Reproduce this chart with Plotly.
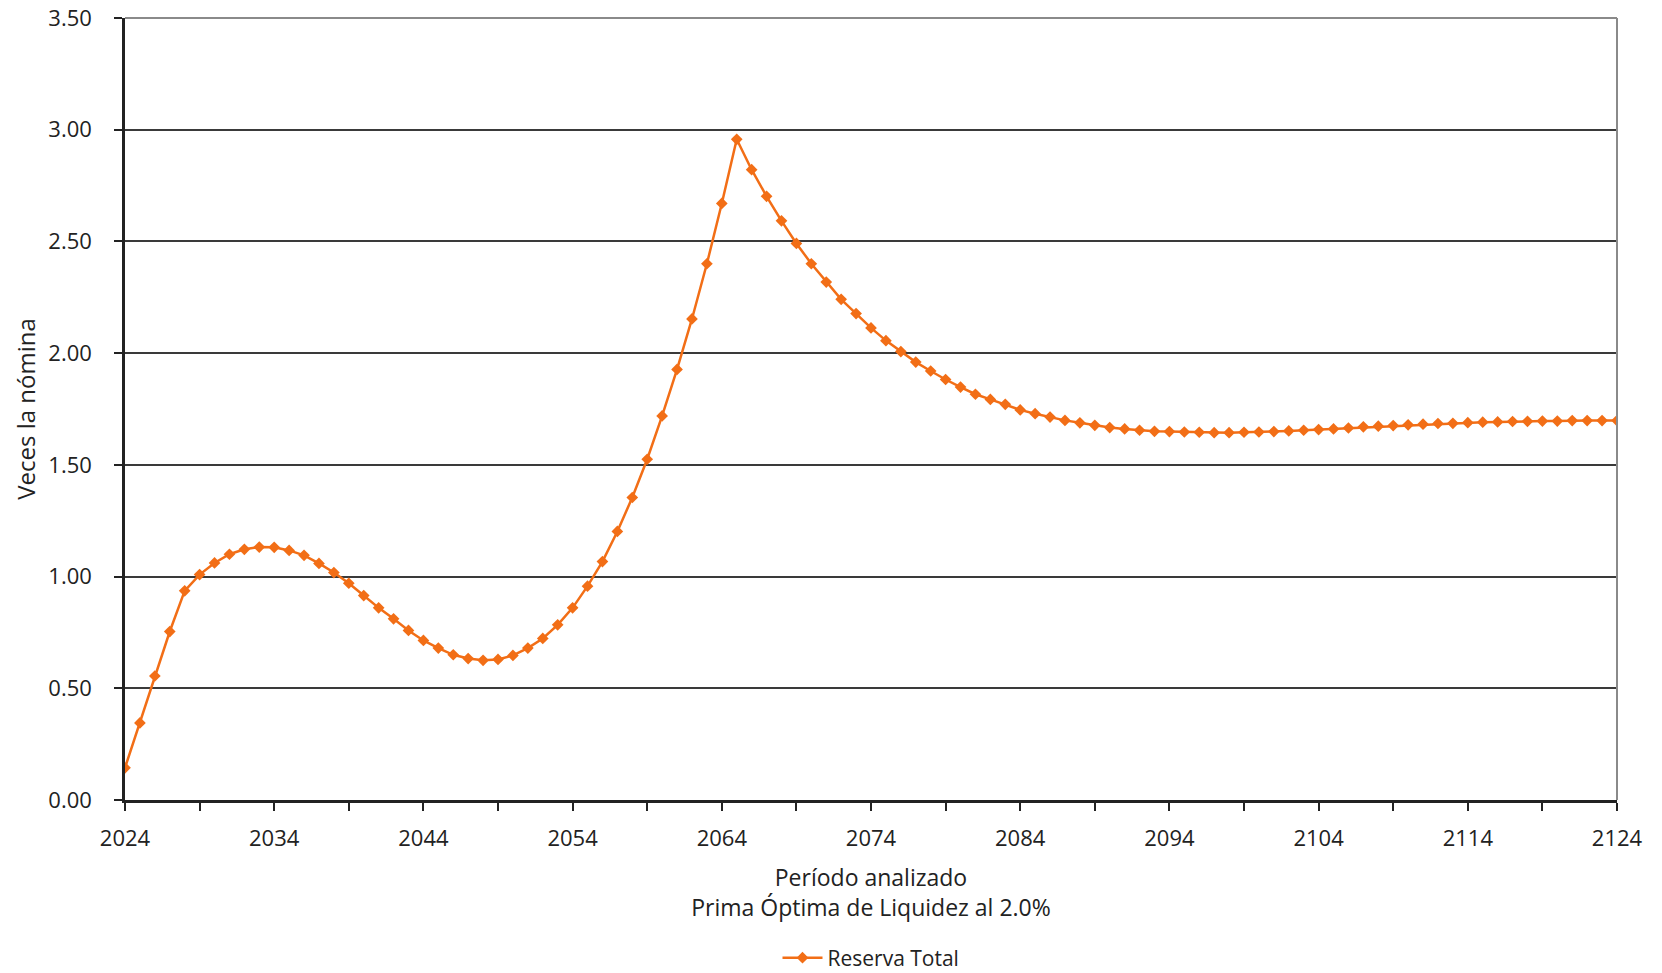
import plotly.graph_objects as go

years = list(range(2024, 2125))

reserva_total = [
    0.144, 0.345, 0.555, 0.754, 0.936, 1.009, 1.061, 1.100, 1.122, 1.132,   # 2024-2033
    1.131, 1.117, 1.095, 1.059, 1.018, 0.970, 0.915, 0.860, 0.811, 0.759,   # 2034-2043
    0.714, 0.680, 0.650, 0.633, 0.625, 0.629, 0.647, 0.680, 0.723, 0.784,   # 2044-2053
    0.860, 0.957, 1.067, 1.202, 1.354, 1.525, 1.719, 1.927, 2.153, 2.400,   # 2054-2063
    2.670, 2.957, 2.821, 2.702, 2.592, 2.491, 2.400, 2.318, 2.241, 2.177,   # 2064-2073
    2.113, 2.056, 2.007, 1.960, 1.920, 1.882, 1.848, 1.816, 1.793, 1.771,   # 2074-2083
    1.746, 1.729, 1.714, 1.699, 1.688, 1.677, 1.667, 1.661, 1.655, 1.650,   # 2084-2093
    1.649, 1.647, 1.646, 1.644, 1.644, 1.646, 1.647, 1.649, 1.652, 1.655,   # 2094-2103
    1.658, 1.661, 1.665, 1.670, 1.673, 1.676, 1.679, 1.682, 1.685, 1.686,   # 2104-2113
    1.689, 1.691, 1.692, 1.694, 1.695, 1.696, 1.696, 1.698, 1.698, 1.698,   # 2114-2123
    1.698,                                                                  # 2124
]

x_tickvals = list(range(2024, 2125, 5))
x_ticktext = [str(v) if (v - 2024) % 10 == 0 else "" for v in x_tickvals]
y_tickvals = [0, 0.5, 1.0, 1.5, 2.0, 2.5, 3.0, 3.5]

series_name = "Reserva Total"
x_title = "Período analizado<br>Prima Óptima de Liquidez al 2.0%"
y_title = "Veces la nómina"

orange = "#F26E16"
font_family = "Open Sans, DejaVu Sans, sans-serif"

fig = go.Figure()
fig.add_trace(go.Scatter(
    x=years, y=reserva_total, mode="lines+markers", name=series_name,
    line=dict(color=orange, width=2.5),
    marker=dict(symbol="diamond", size=9, color=orange),
))

fig.update_layout(
    width=1662, height=973,
    margin=dict(l=125, r=45, t=18, b=173),
    paper_bgcolor="white", plot_bgcolor="white",
    font=dict(family=font_family, size=22, color="#222"),
    showlegend=True,
    legend=dict(orientation="h", x=0.5, xanchor="center",
                yref="container", y=0.0154, yanchor="middle",
                font=dict(size=21), itemwidth=40),
    shapes=[
        dict(type="line", xref="paper", yref="paper", x0=0, x1=1, y0=1, y1=1,
             line=dict(color="#8a8a8a", width=2)),
        dict(type="line", xref="paper", yref="paper", x0=1, x1=1, y0=0, y1=1,
             line=dict(color="#8a8a8a", width=2)),
    ],
)

fig.update_xaxes(
    range=[2024, 2124], tickvals=x_tickvals, ticktext=x_ticktext,
    ticks="outside", ticklen=8, tickcolor="#222", tickwidth=1.5,
    ticklabelstandoff=9, ticklabeloverflow="allow",
    showgrid=False, zeroline=False, automargin=False,
    showline=True, linecolor="#222", linewidth=2.5,
    tickfont=dict(size=22),
    title=dict(text=x_title, font=dict(size=23), standoff=19),
)
fig.update_yaxes(
    range=[0, 3.5], tickvals=y_tickvals, tickformat=".2f",
    ticks="outside", ticklen=8, tickcolor="#222", tickwidth=1.5,
    ticklabelstandoff=18, ticklabeloverflow="allow",
    showgrid=True, gridcolor="#3a3a3a", gridwidth=1.6, zeroline=False, automargin=False,
    showline=True, linecolor="#222", linewidth=2.5,
    tickfont=dict(size=22),
    title=dict(text=y_title, font=dict(size=24), standoff=6),
)

fig.write_html("out.html", config={"displayModeBar": False},
               post_script="document.body.style.margin='0';")
